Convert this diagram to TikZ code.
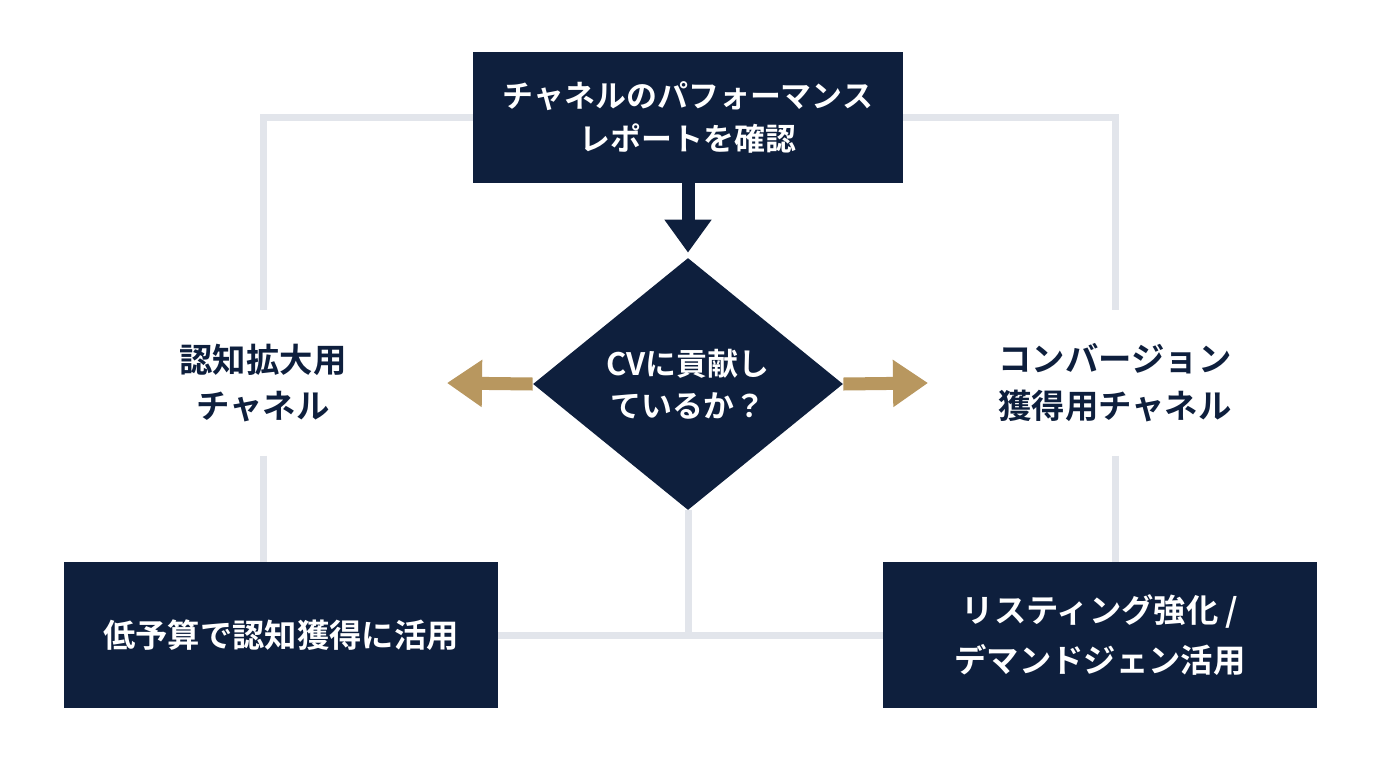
\documentclass[tikz,border=0pt]{standalone}
\usepackage{fontspec}
\setmainfont{Noto Sans CJK JP}[BoldFont={* Bold}]
\usepackage{tikz}
\usetikzlibrary{positioning,calc}
\usetikzlibrary{arrows.meta,shapes.geometric}
\definecolor{NavyDark}{RGB}{14,31,61}
\definecolor{GoldTan}{RGB}{184,151,95}
\definecolor{LineGray}{RGB}{226,229,235}
\tikzset{
	box/.style={draw=none,fill=NavyDark,text=white,font=\bfseries\fontsize{17.6}{24.5}\selectfont,
		minimum width=430*0.02cm,minimum height=131*0.02cm,align=center,inner sep=0pt},
	lowbox/.style={box,minimum width=434*0.02cm,minimum height=146*0.02cm,
		font=\bfseries\fontsize{18.4}{28}\selectfont},
	decision/.style={diamond,fill=NavyDark,text=white,inner sep=0pt,aspect=1.23,
		minimum width=310*0.02cm,minimum height=252*0.02cm,align=center,
		font=\bfseries\fontsize{17.6}{24}\selectfont},
	note/.style={text=NavyDark,align=center,minimum height=145*0.02cm,inner sep=0pt,
		font=\bfseries\fontsize{19}{26.6}\selectfont},
	link/.style={draw=LineGray,line width=7*0.02cm},
	flow/.style={draw=NavyDark,line width=13*0.02cm,
		-{Triangle[length=33*0.02cm,width=45*0.02cm]}},
	side/.style={draw=GoldTan,line width=13*0.02cm,
		-{Triangle[length=35*0.02cm,width=45*0.02cm]}},
}
\begin{document}
\begin{tikzpicture}[x=0.02cm,y=-0.02cm]
	\useasboundingbox[fill=white] (0,0) rectangle (1376,768);
	% nodes
	\node[box] (report) at (688,117.5) {チャネルのパフォーマンス\\レポートを確認};
	\node[decision] (cv) at (688,384) {CVに貢献し\\ているか？};
	\node[note] (aware) at (263,383) {認知拡大用\\チャネル};
	\node[note] (conv) at (1115,383) {コンバージョン\\獲得用チャネル};
	\node[lowbox] (lowcost) at (281,635) {低予算で認知獲得に活用};
	\node[lowbox] (listing) at (1100,635) {リスティング強化 /\\デマンドジェン活用};
	\coordinate (tipL) at (447,383);
	\coordinate (tipR) at (928,383);
	% gray connectors
	\draw[link] (report.west) -| (aware.north);
	\draw[link] (aware.south) -- (aware.south |- lowcost.north);
	\draw[link] (report.east) -| (conv.north);
	\draw[link] (conv.south) -- (conv.south |- listing.north);
	\draw[link] (lowcost.east) -- (listing.west);
	\draw[link] (cv.south) -- (cv.south |- lowcost.east);
	% arrows
	\draw[flow,shorten >=5*0.02cm] (report.south) -- (cv.north);
	\draw[side] (cv.west) -- (tipL);
	\draw[side] (cv.east) -- (tipR);
\end{tikzpicture}
\end{document}
